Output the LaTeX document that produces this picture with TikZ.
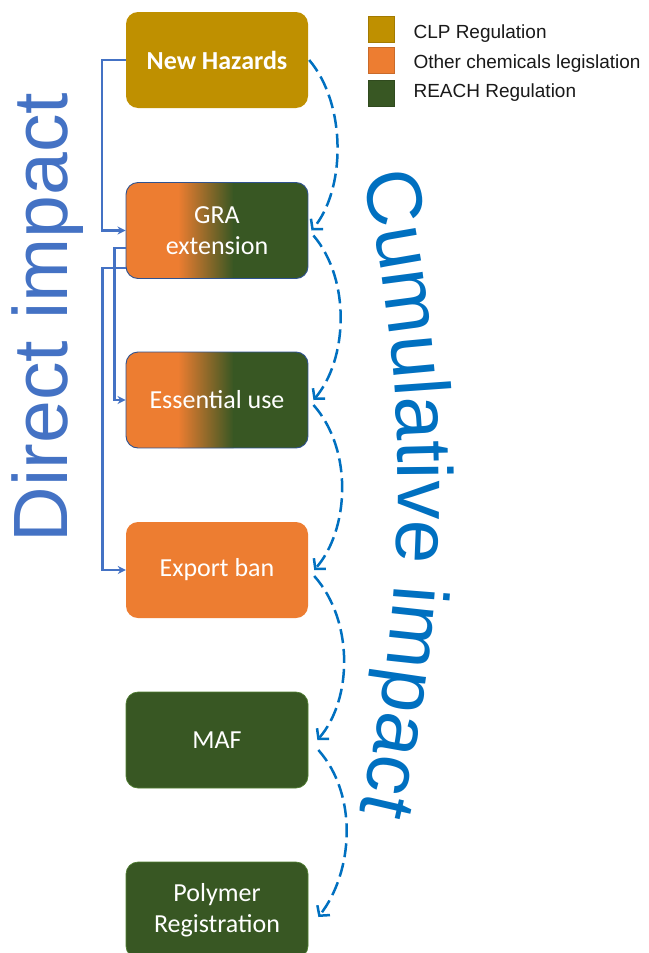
\documentclass[tikz,border=0pt]{standalone}
\usepackage{fontspec}
\setmainfont{Carlito}
\newfontfamily\arialfont{Liberation Sans}
\usetikzlibrary{arrows.meta,decorations.text}
\definecolor{clpgold}{HTML}{BF9000}
\definecolor{otherorange}{HTML}{ED7D31}
\definecolor{reachgreen}{HTML}{385723}
\definecolor{directblue}{HTML}{4472C4}
\definecolor{cumblue}{HTML}{0070C0}
\definecolor{edgeblue}{HTML}{2F528F}
\definecolor{edgegreen}{HTML}{507E32}
\tikzset{
  box/.style={rectangle, rounded corners=12pt, minimum width=182pt, minimum height=96pt,
    inner sep=0pt, text=white, align=center, font=\fontsize{26}{31}\selectfont},
  clpbox/.style={box, fill=clpgold, font=\bfseries\fontsize{26}{31}\selectfont},
  otherbox/.style={box, fill=otherorange},
  reachbox/.style={box, fill=reachgreen, draw=edgegreen, line width=0.7pt},
  mixedbox/.style={box, draw=edgeblue, line width=0.9pt,
    path picture={
      \fill[sharp corners, otherorange] (path picture bounding box.south west) rectangle ([xshift=52.5pt]path picture bounding box.north west);
      \shade[sharp corners, left color=otherorange, right color=reachgreen] ([xshift=52pt]path picture bounding box.south west) rectangle ([xshift=107.5pt]path picture bounding box.north west);
      \fill[sharp corners, reachgreen] ([xshift=107pt]path picture bounding box.south west) rectangle (path picture bounding box.north east);
    }},
  directline/.style={draw=directblue, line width=2.3pt, -{Stealth[length=8pt,width=8pt]}},
  cumline/.style={draw=cumblue, line width=2.5pt, dash pattern=on 14pt off 6pt,
    -{Straight Barb[length=7pt,width=16pt]}},
  legsq/.style={rectangle, minimum size=26pt, inner sep=0pt, line width=0.6pt},
  legtxt/.style={anchor=base west, font=\arialfont\fontsize{19}{22}\selectfont, text=black!90}
}
\begin{document}
\begin{tikzpicture}[x=1pt, y=-1pt]
\useasboundingbox (0,0) rectangle (648,953);
\clip (0,0) rectangle (648,953);
\fill[white] (0,0) rectangle (648,953);

% boxes
\node[clpbox] (nh) at (217,60) {New Hazards};
\node[mixedbox] (gra) at (217,230.5) {GRA\\extension};
\node[mixedbox] (eu) at (217,400) {Essential use};
\node[otherbox] (eb) at (217,570) {Export ban};
\node[reachbox] (maf) at (217,740) {MAF};
\node[reachbox] (pr) at (217,910) {Polymer\\Registration};

% legend
\node[legsq, fill=clpgold, draw=clpgold!85!black] (l1) at (381.5,29) {};
\node[legsq, fill=otherorange, draw=otherorange!85!black] (l2) at (381.5,60.5) {};
\node[legsq, fill=reachgreen, draw=reachgreen!85!black] (l3) at (381.5,93) {};
\node[legtxt] (t1) at (410,38) {CLP Regulation};
\node[legtxt] (t2) at (410,68) {Other chemicals legislation};
\node[legtxt] (t3) at (410,97) {REACH Regulation};

% direct impact connectors
\draw[directline] (nh.west) -- ++(-24,0) |- (gra.west);
\draw[directline] ([yshift=-17.5pt]gra.west) -- ++(-11,0) |- (eu.west);
\draw[directline] ([yshift=-37.5pt]gra.west) -- ++(-23,0) |- (eb.west);

% cumulative connectors
\draw[cumline] ([xshift=1pt]nh.east) .. controls +(38,45) and +(34,-40) .. ([xshift=3pt]gra.east);
\draw[cumline] ([xshift=5pt,yshift=-5pt]gra.east) .. controls +(38,45) and +(34,-40) .. ([xshift=5pt]eu.east);
\draw[cumline] ([xshift=5pt,yshift=-5pt]eu.east) .. controls +(40,45) and +(35,-40) .. ([xshift=6pt]eb.east);
\draw[cumline] ([xshift=6pt,yshift=-6pt]eb.east) .. controls +(40,45) and +(35,-40) .. ([xshift=9pt]maf.east);
\draw[cumline] ([xshift=10pt,yshift=-10pt]maf.east) .. controls +(40,45) and +(35,-45) .. ([xshift=10pt,yshift=-7pt]pr.east);

% side labels
\node[rotate=90, anchor=base, font=\arialfont\fontsize{77}{80}\selectfont, text=directblue] (di) at (67,317.5) {Direct impact};
\path[decorate, decoration={text along path, text align=center, text color=cumblue,
  text={|\arialfont\fontsize{78}{80}\selectfont|Cumulative impact}}]
  (361,168) .. controls (411,380) and (411,600) .. (358,818);
\end{tikzpicture}
\end{document}
